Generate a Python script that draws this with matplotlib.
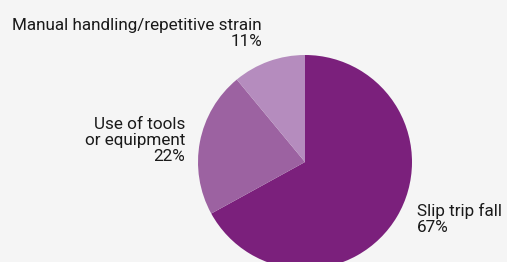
import matplotlib
matplotlib.use("Agg")
import matplotlib.pyplot as plt

# Data
labels = ["Slip trip fall", "Use of tools\nor equipment", "Manual handling/repetitive strain"]
values = [67, 22, 11]
colors = ["#7b207c", "#9c62a1", "#b58cbe"]

W, H = 507, 262
fig = plt.figure(figsize=(W / 100, H / 100), dpi=100)
fig.patch.set_facecolor("#f5f5f5")

# pie centre at (305, 162) px, radius 107 px
cx, cy, r = 305, 162, 107
ax = fig.add_axes([(cx - r) / W, (H - cy - r) / H, 2 * r / W, 2 * r / H])
ax.pie(values, colors=colors, startangle=90, counterclock=False,
       wedgeprops=dict(linewidth=0))
ax.set_xlim(-1, 1)
ax.set_ylim(-1, 1)
ax.set_aspect("equal")
ax.axis("off")

font = dict(family=["Roboto", "DejaVu Sans"], fontsize=12.3, color="#1a1a1a",
            linespacing=1.08)

def px(x, y):
    return x / W, 1 - y / H

# label anchors: (x, baseline of last line, ha)
anchors = [(417, 232, "left"), (185, 161, "right"), (262, 46, "right")]
for lab, v, (x, y, ha) in zip(labels, values, anchors):
    fig.text(*px(x, y), f"{lab}\n{v}%", ha=ha, va="baseline",
             multialignment=ha, **font)

fig.savefig("out.png", dpi=100, facecolor=fig.get_facecolor())
